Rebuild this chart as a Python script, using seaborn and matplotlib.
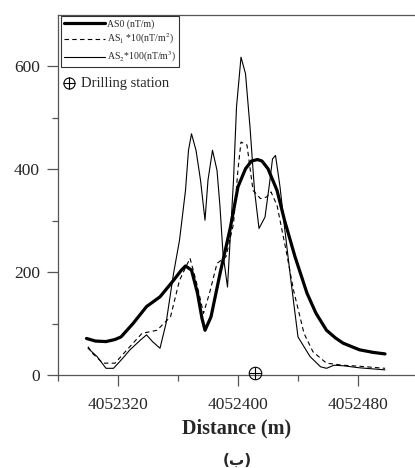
import numpy as np
import pandas as pd
import seaborn as sns
import matplotlib.pyplot as plt
from matplotlib.lines import Line2D

# AS0 (nT/m), thick line
as0_x = [4052299, 4052305, 4052312, 4052318, 4052322, 4052330, 4052339, 4052348,
         4052357, 4052362, 4052365, 4052369, 4052373, 4052376, 4052378, 4052382,
         4052388, 4052395, 4052400, 4052405, 4052409, 4052413, 4052416, 4052420,
         4052426, 4052431, 4052438, 4052446, 4052452, 4052459, 4052465, 4052470,
         4052481, 4052490, 4052498]
as0_y = [71, 66, 65, 69, 74, 100, 133, 152, 184, 203, 212, 204, 159, 110, 87, 113,
         197, 288, 366, 401, 416, 419, 416, 401, 359, 301, 230, 159, 120, 87, 72,
         62, 49, 44, 41]

# AS1*10 (nT/m^2), dashed line
as1_x = [4052300, 4052303, 4052310, 4052318, 4052326, 4052336, 4052346, 4052355,
         4052361, 4052368, 4052372, 4052377, 4052381, 4052386, 4052392, 4052397,
         4052400, 4052402, 4052406, 4052410, 4052415, 4052419, 4052422, 4052426,
         4052432, 4052437, 4052444, 4052450, 4052459, 4052470, 4052481, 4052498]
as1_y = [55, 42, 23, 23, 49, 81, 87, 113, 184, 227, 184, 120, 159, 217, 230, 294,
         400, 453, 447, 359, 343, 346, 356, 330, 243, 165, 81, 45, 23, 19, 17, 13]

# AS2*100 (nT/m^3), thin line
as2_x = [4052300, 4052306, 4052312, 4052317, 4052323, 4052328, 4052335, 4052339,
         4052343, 4052348, 4052352, 4052357, 4052361, 4052365, 4052367, 4052369,
         4052372, 4052375, 4052378, 4052380, 4052383, 4052386, 4052388, 4052390,
         4052393, 4052395, 4052397, 4052399, 4052402, 4052405, 4052408, 4052411,
         4052414, 4052418, 4052421, 4052423, 4052425, 4052428, 4052431, 4052435,
         4052440, 4052448, 4052455, 4052459, 4052464, 4052470, 4052481, 4052498]
as2_y = [52, 36, 13, 13, 32, 49, 68, 78, 65, 52, 100, 197, 262, 359, 437, 469,
         437, 379, 301, 379, 437, 398, 327, 236, 171, 275, 379, 521, 618, 586,
         482, 359, 285, 307, 372, 420, 427, 366, 288, 190, 74, 36, 16, 13, 19, 18,
         14, 10]

station_x = [4052411]
station_y = [3]

x_major = [4052320, 4052400, 4052480]
x_minor = [4052280, 4052360, 4052440]
y_major = [0, 200, 400, 600]
y_minor = [100, 300, 500]

sns.set_style("white")
plt.rcParams["font.family"] = ["Liberation Serif", "DejaVu Serif"]
plt.rcParams["mathtext.fontset"] = "stix"

fig = plt.figure(figsize=(4.15, 4.68), dpi=100)
ax = fig.add_axes([58 / 415, 1 - 375 / 468, 357 / 415, 360 / 468])

sns.lineplot(x=as0_x, y=as0_y, ax=ax, color="black", linewidth=2.3)
sns.lineplot(x=as1_x, y=as1_y, ax=ax, color="black", linewidth=0.8,
             linestyle=(0, (4, 3)))
sns.lineplot(x=as2_x, y=as2_y, ax=ax, color="black", linewidth=0.8)

# drilling station marker on the axis
ax.plot(station_x, station_y, marker="o", ms=9, mfc="none", mec="black",
        mew=0.8, linestyle="none", clip_on=False, zorder=5)
ax.plot(station_x, station_y, marker="+", ms=9, mec="black", mew=0.8,
        linestyle="none", clip_on=False, zorder=5)

ax.set_xlim(4052280, 4052518)
ax.set_ylim(0, 700)
ax.set_xticks(x_major)
ax.set_xticklabels([str(v) for v in x_major])
ax.set_xticks(x_minor, minor=True)
ax.set_yticks(y_major)
ax.set_yticklabels([str(v) for v in y_major])
ax.set_yticks(y_minor, minor=True)

spine_col = "#555555"
for side in ["left", "bottom", "top"]:
    ax.spines[side].set_visible(True)
    ax.spines[side].set_color(spine_col)
    ax.spines[side].set_linewidth(0.9)
ax.spines["right"].set_visible(False)

ax.tick_params(axis="both", which="major", direction="out", length=8,
               width=0.9, color=spine_col, labelsize=12.5, pad=5,
               bottom=True, left=True)
ax.tick_params(axis="both", which="minor", direction="out", length=4.5,
               width=0.9, color=spine_col, bottom=True, left=True)
ax.tick_params(axis="x", which="major", pad=8)

ax.set_xlabel("Distance (m)", fontsize=14.5, fontweight="bold", labelpad=4)
ax.set_ylabel("")

handles = [
    Line2D([], [], color="black", linewidth=2.3),
    Line2D([], [], color="black", linewidth=0.8, linestyle=(0, (4, 3))),
    Line2D([], [], color="black", linewidth=0.8),
]
labels = ["AS0 (nT/m)", "AS$_1$ *10(nT/m$^2$)", "AS$_2$*100(nT/m$^3$)"]
leg = ax.legend(handles, labels, loc="upper left",
                bbox_to_anchor=(0.008, 0.997), fontsize=7, frameon=True,
                fancybox=False, edgecolor="black", handlelength=4.2,
                handletextpad=0.2, borderpad=0.3, labelspacing=0.35,
                borderaxespad=0)
leg.get_frame().set_linewidth(0.8)

ax.plot([0.031], [0.81], transform=ax.transAxes, marker="o", ms=8,
        mfc="none", mec="black", mew=0.8, linestyle="none")
ax.plot([0.031], [0.81], transform=ax.transAxes, marker="+", ms=8,
        mec="black", mew=0.8, linestyle="none")
ax.text(0.064, 0.81, "Drilling station", transform=ax.transAxes,
        fontsize=10.5, va="center", ha="left")

fig.text(237 / 415, 1 - 460 / 468, "(ب)", fontsize=11, fontweight="bold",
         ha="center", va="center", family=["DejaVu Sans"])

fig.savefig("out.png", dpi=100)
